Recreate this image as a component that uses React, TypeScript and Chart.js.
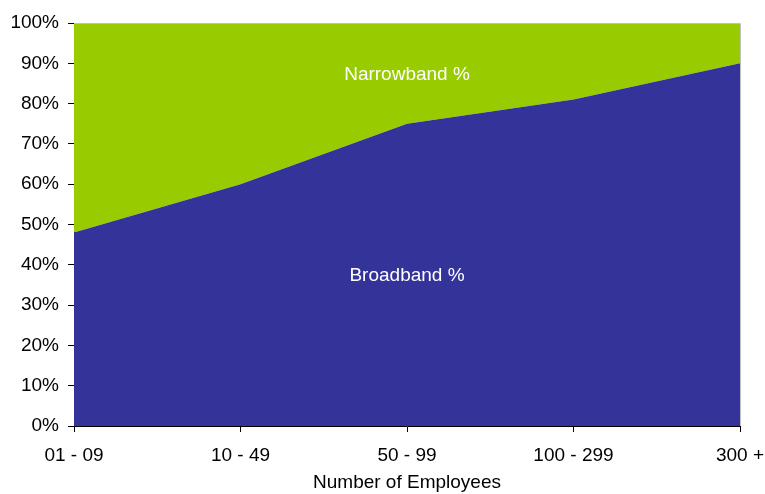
import React, { useEffect, useRef } from "react";
import { Chart, registerables } from "chart.js";

Chart.register(...registerables);

const categories = ["01 - 09", "10 - 49", "50 - 99", "100 - 299", "300 +"];
const broadband = [48, 60, 75, 81, 90];
const narrowband = [52, 40, 25, 19, 10];
const yTickValues = [0, 10, 20, 30, 40, 50, 60, 70, 80, 90, 100];
const xTitle = "Number of Employees";
const seriesLabels = ["Broadband %", "Narrowband %"];

const FONT = "'Liberation Sans', Arial, sans-serif";

const areaLabels = {
  id: "areaLabels",
  afterDatasetsDraw(chart: any) {
    const { ctx, chartArea, scales } = chart;
    const x = scales.x.getPixelForValue(2);
    ctx.save();
    ctx.fillStyle = "#ffffff";
    ctx.font = `19px ${FONT}`;
    ctx.textAlign = "center";
    ctx.textBaseline = "middle";
    ctx.fillText(seriesLabels[1], x, scales.y.getPixelForValue(87.2));
    ctx.fillText(seriesLabels[0], x, scales.y.getPixelForValue(37.4));
    // plot border top & right
    ctx.strokeStyle = "#c0c0c0";
    ctx.lineWidth = 1;
    ctx.beginPath();
    ctx.moveTo(chartArea.left, chartArea.top + 0.5);
    ctx.lineTo(chartArea.right + 0.5, chartArea.top + 0.5);
    ctx.lineTo(chartArea.right + 0.5, chartArea.bottom);
    ctx.stroke();
    ctx.restore();
  },
};

export default function App() {
  const ref = useRef<HTMLCanvasElement>(null);
  useEffect(() => {
    document.body.style.margin = "0";
    const chart = new Chart(ref.current!, {
      type: "line",
      data: {
        labels: categories,
        datasets: [
          {
            label: seriesLabels[0],
            data: broadband,
            backgroundColor: "#333399",
            borderWidth: 0,
            pointRadius: 0,
            fill: "origin",
            tension: 0,
          },
          {
            label: seriesLabels[1],
            data: narrowband,
            backgroundColor: "#99CC00",
            borderWidth: 0,
            pointRadius: 0,
            fill: "-1",
            tension: 0,
          },
        ],
      },
      options: {
        animation: false,
        responsive: false,
        maintainAspectRatio: false,
        layout: { padding: { top: 23, right: 25, left: 0, bottom: 0 } },
        plugins: { legend: { display: false }, tooltip: { enabled: false } },
        scales: {
          x: {
            type: "category",
            offset: false,
            grid: { drawOnChartArea: false, drawTicks: true, tickLength: 6, color: "#000", offset: false },
            border: { display: true, color: "#000", width: 1 },
            ticks: { color: "#000", font: { family: FONT, size: 19 }, padding: 12, maxRotation: 0, autoSkip: false },
            title: { display: true, text: xTitle, color: "#000", font: { family: FONT, size: 19 }, padding: { top: 4, bottom: 0 } },
            afterFit: (s: any) => { s.height = 68; s.paddingRight = 0; s.paddingLeft = 0; },
          },
          y: {
            stacked: true,
            min: 0,
            max: 100,
            afterBuildTicks: (s: any) => { s.ticks = yTickValues.map((v) => ({ value: v })); },
            grid: { drawOnChartArea: false, drawTicks: true, tickLength: 6, color: "#000" },
            border: { display: true, color: "#000", width: 1 },
            ticks: { color: "#000", font: { family: FONT, size: 19 }, padding: 9, callback: (v: any) => v + "%" },
            afterFit: (s: any) => { s.width = 74; s.paddingTop = 0; s.paddingBottom = 0; },
          },
        },
      },
      plugins: [areaLabels],
    });
    return () => chart.destroy();
  }, []);
  return (
    <div style={{ position: "absolute", left: 0, top: 0, width: 765, height: 494 }}>
      <canvas ref={ref} width={765} height={494} style={{ display: "block" }} />
    </div>
  );
}
